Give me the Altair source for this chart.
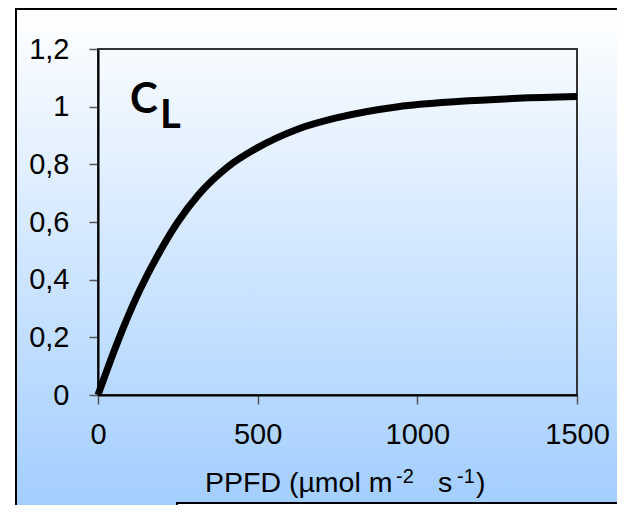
import altair as alt
import pandas as pd

# Data
ppfd = [0, 60, 125, 190, 250, 315, 405, 500, 625, 750, 940, 1125, 1315, 1500]
cl = [0, 0.18, 0.35, 0.49, 0.60, 0.695, 0.79, 0.858, 0.922, 0.962, 1.000, 1.018, 1.029, 1.035]
x_ticks = [0, 500, 1000, 1500]
y_ticks = [0, 0.2, 0.4, 0.6, 0.8, 1.0, 1.2]
# x-axis title pieces: (text, is_superscript)
title_parts = [("PPFD (µmol m", False), ("-2", True), ("s", False), ("-1", True), (")", False)]
label_main = "C"
label_sub = "L"

W, H = 479, 346

df = pd.DataFrame({"ppfd": ppfd, "cl": cl})
one = alt.Data(values=[{"a": 1}])

grad = alt.LinearGradient(
    gradient="linear",
    stops=[alt.GradientStop(offset=0, color="#ffffff"),
           alt.GradientStop(offset=1, color="#9fccff")],
    x1=0, x2=0, y1=0, y2=1,
)

bg = alt.Chart(one).mark_rect(fill=grad, stroke="black", strokeWidth=2).encode(
    x=alt.value(-82), x2=alt.value(W + 100), y=alt.value(-40), y2=alt.value(H + 130)
)
white_box = alt.Chart(one).mark_rect(fill="white", stroke="black", strokeWidth=2).encode(
    x=alt.value(79), x2=alt.value(W + 100), y=alt.value(108 + H), y2=alt.value(H + 130)
)

xs = alt.Scale(domain=[0, 1500], nice=False)
ys = alt.Scale(domain=[0, 1.2], nice=False)

line = alt.Chart(df).mark_line(color="black", strokeWidth=7, interpolate="monotone").encode(
    x=alt.X("ppfd:Q", scale=xs, axis=alt.Axis(
        values=x_ticks, title=None, grid=False, zindex=1, format="d", labelFlush=False,
        labelFont="Liberation Sans", labelFontSize=29, labelColor="black", labelPadding=16,
        tickSize=9, tickColor="#555555", tickWidth=1.5,
        domainColor="black", domainWidth=2,
    )),
    y=alt.Y("cl:Q", scale=ys, axis=alt.Axis(
        values=y_ticks, title=None, grid=False, zindex=1, labelFlush=False,
        labelExpr="replace(format(datum.value, '.1~f'), '.', ',')",
        labelFont="Liberation Sans", labelFontSize=29, labelColor="black", labelPadding=20,
        tickSize=9, tickColor="#555555", tickWidth=1.5,
        domainColor="black", domainWidth=2,
    )),
)

frame = alt.Chart(one).mark_rect(fillOpacity=0, stroke="#333333", strokeWidth=2).encode(
    x=alt.value(0), x2=alt.value(W), y=alt.value(0), y2=alt.value(H)
)

def txt(s, x, y, size, font="Liberation Sans", weight="normal"):
    return alt.Chart(one).mark_text(font=font, fontWeight=weight, fontSize=size,
                                    align="left", baseline="alphabetic", color="black").encode(
        x=alt.value(x), y=alt.value(y), text=alt.value(s))

txt_c = txt(label_main, 32, 64, 42, font="Lato", weight="bold")
txt_l = txt(label_sub, 62, 79, 40, font="Lato", weight="bold")

# title pieces positioned like the reference's superscripted axis title
part_x = [107, 298, 340, 359, 378]
title_layers = []
for (s, sup), px in zip(title_parts, part_x):
    if sup:
        title_layers.append(txt(s, px, 434, 20))
    else:
        title_layers.append(txt(s, px, 443, 28.5))

chart = alt.layer(bg, white_box, frame, line, txt_c, txt_l, *title_layers).properties(
    width=W, height=H,
    autosize=alt.AutoSizeParams(type="none"),
    padding={"left": 90, "top": 41, "right": 40, "bottom": 110},
).configure_view(stroke=None)

chart.save("out.html", embed_options={"renderer": "svg", "actions": False})
